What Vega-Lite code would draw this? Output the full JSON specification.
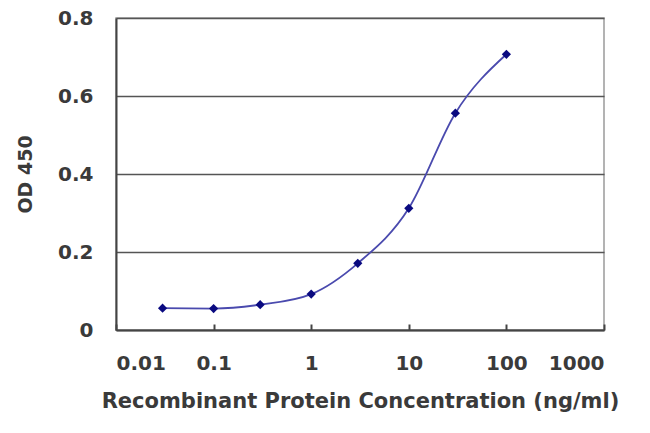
{
  "$schema": "https://vega.github.io/schema/vega-lite/v6.json",
  "autosize": "none",
  "padding": {"left": 116, "top": 18, "right": 46, "bottom": 103},
  "width": 488,
  "height": 312,
  "background": "white",
  "config": {
    "view": {"stroke": "#9a9a9a", "strokeWidth": 1.5},
    "axis": {
      "labelFont": "DejaVu Sans",
      "titleFont": "DejaVu Sans",
      "labelColor": "#3a3a3a",
      "titleColor": "#3a3a3a",
      "labelFontWeight": "bold",
      "titleFontWeight": "bold"
    }
  },
  "data": {
    "values": [
      {"conc": 0.03, "od": 0.056},
      {"conc": 0.1, "od": 0.055},
      {"conc": 0.3, "od": 0.065},
      {"conc": 1, "od": 0.092},
      {"conc": 3, "od": 0.171},
      {"conc": 10, "od": 0.312},
      {"conc": 30, "od": 0.556},
      {"conc": 100, "od": 0.707}
    ]
  },
  "encoding": {
    "x": {
      "field": "conc",
      "type": "quantitative",
      "scale": {"type": "log", "domain": [0.01, 1000], "nice": false},
      "axis": {
        "title": "Recombinant Protein Concentration (ng/ml)",
        "values": [0.01, 0.1, 1, 10, 100, 1000],
        "format": "~g",
        "grid": false,
        "domainColor": "#444",
        "domainWidth": 2,
        "tickColor": "#444",
        "tickWidth": 2,
        "tickSize": -6,
        "labelPadding": 29,
        "labelFontSize": 20,
        "titleFontSize": 21,
        "titlePadding": 17
      }
    },
    "y": {
      "field": "od",
      "type": "quantitative",
      "scale": {"domain": [0, 0.8], "nice": false},
      "axis": {
        "title": "OD 450",
        "values": [0, 0.2, 0.4, 0.6, 0.8],
        "format": "~g",
        "grid": true,
        "gridColor": "#555",
        "gridWidth": 1.5,
        "gridOpacity": 1,
        "ticks": false,
        "domainColor": "#444",
        "domainWidth": 2,
        "labelPadding": 23,
        "labelFontSize": 20,
        "titleFontSize": 19,
        "titlePadding": 22
      }
    }
  },
  "layer": [
    {
      "mark": {"type": "line", "interpolate": "monotone", "color": "#4a4aae", "strokeWidth": 1.8}
    },
    {
      "mark": {"type": "point", "shape": "diamond", "filled": true, "color": "#0a0a80", "size": 85, "opacity": 1}
    }
  ]
}
